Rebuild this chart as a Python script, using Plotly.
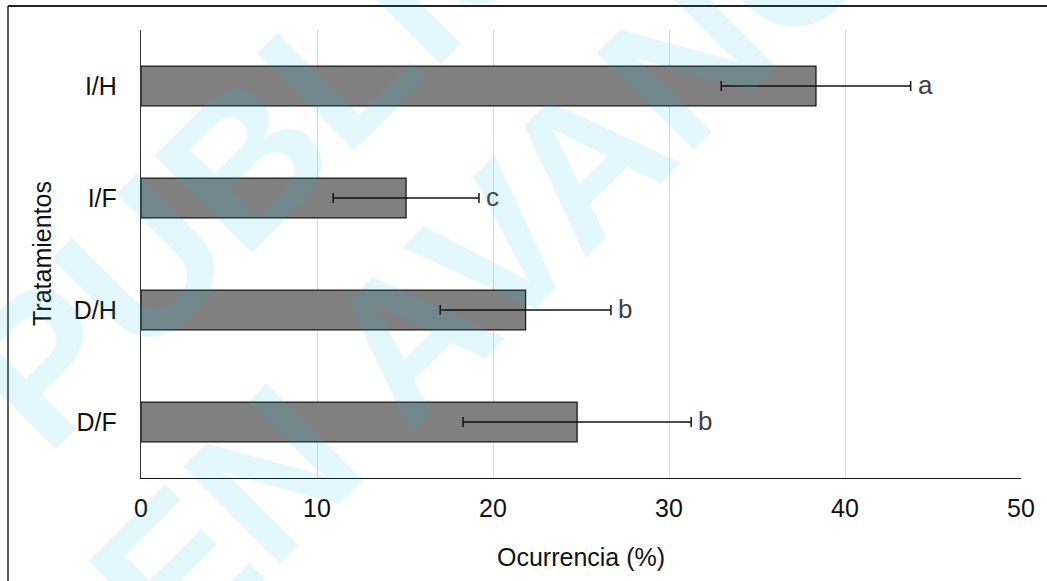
import plotly.graph_objects as go

# ---- data ----
categories = ["I/H", "I/F", "D/H", "D/F"]
occurrence = [38.35, 15.06, 21.85, 24.78]
error_sd = [5.38, 4.14, 4.85, 6.48]
letters = ["a", "c", "b", "b"]
x_ticks = [0, 10, 20, 30, 40, 50]

W, H = 1047, 581
L, R, T, B = 141, 26, 30, 103
PW, PH = W - L - R, H - T - B

def px_x(p):
    return (p - L) / PW

def px_y(p):
    return (H - B - p) / PH

FONT = "Liberation Sans, Arial, sans-serif"

fig = go.Figure()
fig.add_trace(go.Bar(
    y=categories, x=occurrence, orientation="h",
    width=0.355,
    marker=dict(color="#808080", line=dict(color="#1a1a1a", width=1.3)),
    error_x=dict(type="data", array=error_sd, visible=True,
                 color="#111111", thickness=1.5, width=5),
    showlegend=False, hoverinfo="skip",
))

annotations = []
for c, v, e, t in zip(categories, occurrence, error_sd, letters):
    annotations.append(dict(
        x=v + e, y=c, xref="x", yref="y", text=t, showarrow=False,
        xanchor="left", yanchor="middle", xshift=5, yshift=1,
        font=dict(family=FONT, size=26, color="#404040"),
    ))

# axis titles
annotations.append(dict(
    x=0.5, y=px_y(557), xref="paper", yref="paper", text="Ocurrencia (%)",
    showarrow=False, xanchor="center", yanchor="middle",
    font=dict(family=FONT, size=25, color="#111111"),
))
annotations.append(dict(
    x=px_x(42), y=0.5, xref="paper", yref="paper", text="Tratamientos",
    showarrow=False, xanchor="center", yanchor="middle", textangle=-90,
    font=dict(family=FONT, size=25, color="#111111"),
))

# watermark
wm_color = "rgba(0,195,240,0.11)"
annotations.append(dict(
    x=px_x(488), y=px_y(-81), xref="paper", yref="paper",
    text="<b>PUBLICACIÓN</b>", showarrow=False, textangle=-45,
    xanchor="center", yanchor="middle",
    font=dict(family=FONT, size=200, color=wm_color),
))
annotations.append(dict(
    x=px_x(530), y=px_y(215), xref="paper", yref="paper",
    text="<b>EN AVANCE</b>", showarrow=False, textangle=-45,
    xanchor="center", yanchor="middle",
    font=dict(family=FONT, size=200, color=wm_color),
))

border = dict(color="#222222", width=2)
shapes = [
    dict(type="line", xref="paper", yref="paper",
         x0=px_x(8), x1=px_x(1050), y0=px_y(6), y1=px_y(6),
         line=border, layer="above"),
    dict(type="line", xref="paper", yref="paper",
         x0=px_x(8), x1=px_x(8), y0=px_y(6), y1=px_y(590),
         line=dict(color="#222222", width=1.5), layer="above"),
]

fig.update_layout(
    width=W, height=H,
    margin=dict(l=L, r=R, t=T, b=B),
    paper_bgcolor="white", plot_bgcolor="white",
    font=dict(family=FONT, color="#111111"),
    annotations=annotations,
    shapes=shapes,
)
fig.update_xaxes(
    range=[0, 50], tickvals=x_ticks, ticktext=[str(v) for v in x_ticks],
    showgrid=True, gridcolor="#d9d9d9", gridwidth=1,
    showline=True, linecolor="#111111", linewidth=1.3,
    zeroline=False,
    ticks="outside", ticklen=8, tickcolor="rgba(0,0,0,0)",
    tickfont=dict(family=FONT, size=25, color="#111111"),
)
fig.update_yaxes(
    categoryorder="array", categoryarray=categories,
    range=[3.5, -0.5],
    showgrid=False,
    showline=True, linecolor="#333333", linewidth=1.3,
    ticks="outside", ticklen=18, tickcolor="rgba(0,0,0,0)",
    tickfont=dict(family=FONT, size=25, color="#111111"),
)

fig.write_html("out.html", config={"displayModeBar": False},
               post_script="document.body.style.margin='0px';document.body.style.padding='0px';document.body.style.overflow='hidden';")
